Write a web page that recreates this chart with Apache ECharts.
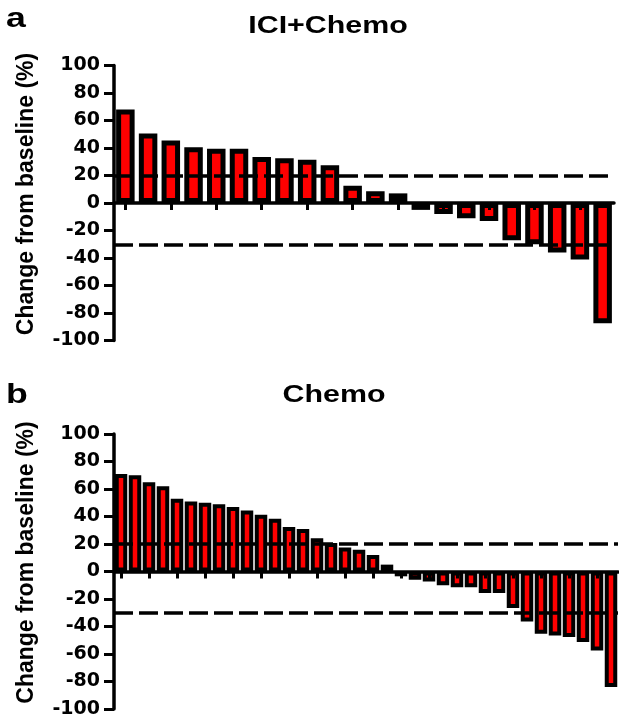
<!DOCTYPE html>
<html>
<head>
<meta charset="utf-8">
<script src="https://cdn.jsdelivr.net/npm/echarts@6/dist/echarts.min.js"></script>
<style>
  html, body { margin: 0; padding: 0; background: #fff; }
  #waterfall { width: 619px; height: 720px; }
</style>
</head>
<body>
<div id="waterfall"></div>
<script>
// change from baseline (%), one value per patient, sorted
const iciChemo = [68, 50.5, 45.5, 40.5, 39.5, 39.5, 33.5, 32.5, 31.5, 27.5, 12.5, 8.5, 7,
  -5, -8, -11, -13, -27, -30, -36, -41, -87.5];
const chemo = [71, 70, 65, 62, 53, 51, 50, 49, 47, 44.3, 41.2, 38.3, 32.3, 31,
  24.2, 20.8, 17.4, 15.8, 12, 5, -3.5, -6, -7.3, -10, -11.4, -11.4, -15.7, -15.7,
  -26.6, -36.3, -45.3, -46.5, -47.7, -51.3, -57.4, -84];
// response thresholds (dashed lines)
const thresholds = [20, -30];
const yTicks = { min: -100, max: 100, step: 20 };
const panelTitles = ['ICI+Chemo', 'Chemo'];
const panelLetters = ['a', 'b'];
const yName = 'Change from baseline (%)';

const tickFont = 'DejaVu Sans';
const labelFont = 'Liberation Sans';

function cats(arr) {
  return arr.map((v, i) => 'P' + (i + 1));
}

function xAxisFor(gridIndex, data) {
  return {
    type: 'category',
    gridIndex: gridIndex,
    data: cats(data),
    z: 10,
    axisLine: { onZero: true, lineStyle: { color: '#000', width: 3.5 } },
    axisTick: { show: true, alignWithLabel: true, length: 7, lineStyle: { color: '#000', width: 3 } },
    axisLabel: { show: false },
    splitLine: { show: false }
  };
}

function yAxisFor(gridIndex) {
  return {
    type: 'value',
    gridIndex: gridIndex,
    min: yTicks.min,
    max: yTicks.max,
    interval: yTicks.step,
    z: 10,
    name: yName,
    nameLocation: 'middle',
    nameRotate: 90,
    nameGap: 76,
    nameTextStyle: {
      fontFamily: labelFont, fontWeight: 'bold', fontSize: 23, color: '#000',
      padding: [0, 0, 0, 18]
    },
    axisLine: { show: true, lineStyle: { color: '#000', width: 3.5 } },
    axisTick: { show: true, length: 10, lineStyle: { color: '#000', width: 3 } },
    axisLabel: { fontFamily: tickFont, fontWeight: 'bold', fontSize: 19, color: '#000', margin: 14 },
    splitLine: { show: false }
  };
}

function barSeries(idx, data, barWidth, border) {
  return {
    type: 'bar',
    xAxisIndex: idx,
    yAxisIndex: idx,
    data: data,
    barWidth: barWidth,
    itemStyle: { color: '#ff0000', borderColor: '#000', borderWidth: border },
    markLine: {
      silent: true,
      symbol: ['none', 'none'],
      label: { show: false },
      lineStyle: { color: '#000', width: 3.5, type: [19, 6] },
      data: thresholds.map(v => ({ yAxis: v }))
    }
  };
}

function headText(txt, x, y, size, align) {
  return {
    type: 'text',
    x: x, y: y,
    scaleX: 1.32,
    style: {
      text: txt,
      font: 'bold ' + size + 'px "' + labelFont + '"',
      fill: '#000',
      align: align,
      verticalAlign: 'bottom'
    }
  };
}

const chart = echarts.init(document.getElementById('waterfall'));
chart.setOption({
  animation: false,
  backgroundColor: '#fff',
  grid: [
    { left: 114, top: 65.5, width: 500, height: 275 },
    { left: 114, top: 434, width: 504, height: 275 }
  ],
  xAxis: [xAxisFor(0, iciChemo), xAxisFor(1, chemo)],
  yAxis: [yAxisFor(0), yAxisFor(1)],
  series: [
    barSeries(0, iciChemo, 18.5, 5),
    barSeries(1, chemo, 12.5, 4)
  ],
  graphic: [
    headText(panelLetters[0], 6, 33, 27, 'left'),
    headText(panelTitles[0], 328, 38, 23, 'center'),
    headText(panelLetters[1], 6, 409, 27, 'left'),
    headText(panelTitles[1], 334, 407, 23, 'center')
  ]
});
</script>
</body>
</html>
